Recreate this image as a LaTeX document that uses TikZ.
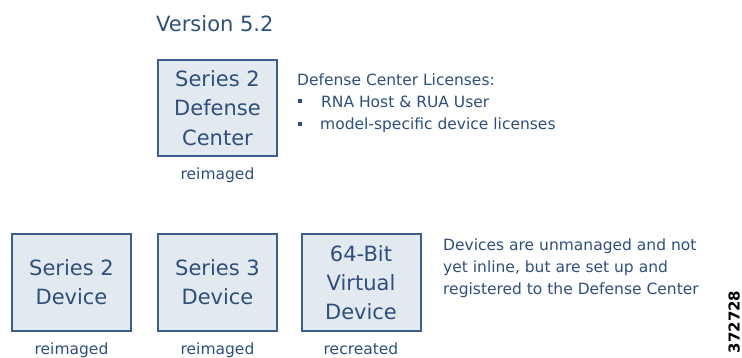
\documentclass[tikz,border=0pt]{standalone}
\usepackage{fontspec}
\setmainfont{DejaVu Sans}
\definecolor{txt}{HTML}{2D4F80}
\definecolor{edge}{HTML}{3B5E8E}
\definecolor{boxfill}{HTML}{E2E9EF}
\tikzset{
  devbox/.style={draw=edge, line width=2pt, fill=boxfill, inner sep=0pt,
    minimum width=119pt, minimum height=96pt, align=center, text=txt,
    font=\fontsize{21}{29.2}\selectfont},
  big/.style={text=txt, inner sep=0pt, font=\fontsize{21}{29}\selectfont},
  small/.style={text=txt, inner sep=0pt, font=\fontsize{15.5}{21.8}\selectfont},
  bul/.style={fill=txt, inner sep=0pt, minimum size=4.5pt}
}
\begin{document}
\begin{tikzpicture}[x=1pt,y=-1pt]
\useasboundingbox (0,0) rectangle (742,358);
\node[big, anchor=base west] (ver) at (156,32) {Version 5.2};
\node[devbox] (dc) at (217.5,108) {Series 2\\Defense\\Center};
\node[small, anchor=base] (dcl) at (217.5,180) {reimaged};
\node[small, anchor=base west] (lic) at (297,85.5) {Defense Center Licenses:};
\node[bul] (b1) at (300,101) {};
\node[small, anchor=base west] (l1) at (321,107.5) {RNA Host \& RUA User};
\node[bul] (b2) at (300,124) {};
\node[small, anchor=base west] (l2) at (320,129.5) {model-specific device licenses};
\node[devbox] (d2) at (71.5,282.5) {Series 2\\Device};
\node[devbox] (d3) at (217.5,282.5) {Series 3\\Device};
\node[devbox] (vd) at (361,282.5) {64-Bit\\Virtual\\Device};
\node[small, anchor=base] (d2l) at (71.5,354) {reimaged};
\node[small, anchor=base] (d3l) at (217.5,354) {reimaged};
\node[small, anchor=base] (vdl) at (361,354) {recreated};
\node[small, anchor=north west, align=left] (note) at (443,238.5) {Devices are unmanaged and not\\yet inline, but are set up and\\registered to the Defense Center};
\node[inner sep=0pt, rotate=90, anchor=south, font=\bfseries\fontsize{15}{18}\selectfont] (id) at (740,322) {372728};
\end{tikzpicture}
\end{document}
